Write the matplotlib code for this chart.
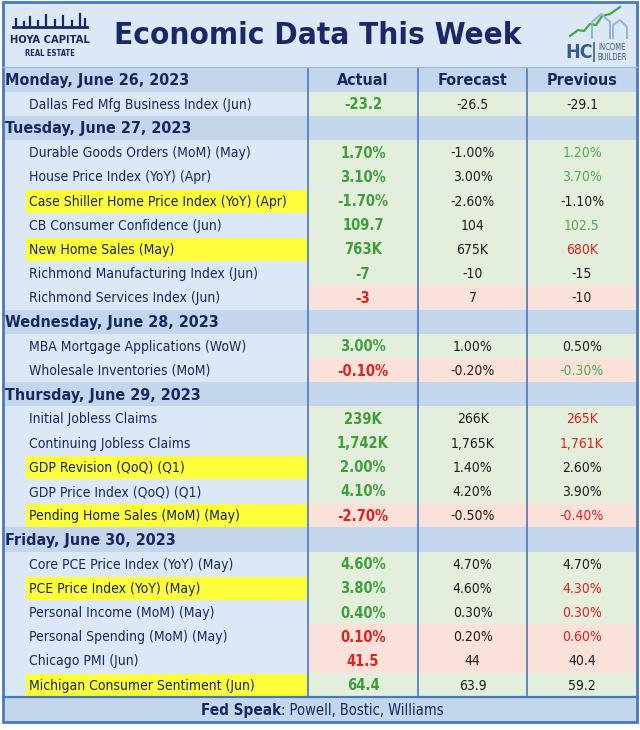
import matplotlib
matplotlib.use('Agg')
import matplotlib.pyplot as plt
from matplotlib.patches import Rectangle

# ---- data ----
days = ['Monday, June 26, 2023', 'Tuesday, June 27, 2023', 'Wednesday, June 28, 2023',
        'Thursday, June 29, 2023', 'Friday, June 30, 2023']
day_of = [0, 1, 1, 1, 1, 1, 1, 1, 2, 2, 3, 3, 3, 3, 3, 4, 4, 4, 4, 4, 4]
events = ['Dallas Fed Mfg Business Index (Jun)',
          'Durable Goods Orders (MoM) (May)', 'House Price Index (YoY) (Apr)',
          'Case Shiller Home Price Index (YoY) (Apr)', 'CB Consumer Confidence (Jun)',
          'New Home Sales (May)', 'Richmond Manufacturing Index (Jun)', 'Richmond Services Index (Jun)',
          'MBA Mortgage Applications (WoW)', 'Wholesale Inventories (MoM)',
          'Initial Jobless Claims', 'Continuing Jobless Claims', 'GDP Revision (QoQ) (Q1)',
          'GDP Price Index (QoQ) (Q1)', 'Pending Home Sales (MoM) (May)',
          'Core PCE Price Index (YoY) (May)', 'PCE Price Index (YoY) (May)',
          'Personal Income (MoM) (May)', 'Personal Spending (MoM) (May)',
          'Chicago PMI (Jun)', 'Michigan Consumer Sentiment (Jun)']
actual = ['-23.2', '1.70%', '3.10%', '-1.70%', '109.7', '763K', '-7', '-3', '3.00%', '-0.10%',
          '239K', '1,742K', '2.00%', '4.10%', '-2.70%', '4.60%', '3.80%', '0.40%', '0.10%',
          '41.5', '64.4']
forecast = ['-26.5', '-1.00%', '3.00%', '-2.60%', '104', '675K', '-10', '7', '1.00%', '-0.20%',
            '266K', '1,765K', '1.40%', '4.20%', '-0.50%', '4.70%', '4.60%', '0.30%', '0.20%',
            '44', '63.9']
previous = ['-29.1', '1.20%', '3.70%', '-1.10%', '102.5', '680K', '-15', '-10', '0.50%', '-0.30%',
            '265K', '1,761K', '2.60%', '3.90%', '-0.40%', '4.70%', '4.30%', '0.30%', '0.60%',
            '40.4', '59.2']
# g = beat (green row / text), r = miss (red), k = neutral
outcome = ['g'] * 7 + ['r', 'g', 'r', 'g', 'g', 'g', 'g', 'r', 'g', 'g', 'g', 'r', 'r', 'g']
prev_col = ['k', 'g', 'g', 'k', 'g', 'r', 'k', 'k', 'k', 'g', 'r', 'r', 'k', 'k', 'r',
            'k', 'r', 'r', 'r', 'k', 'k']
highlight = [3, 5, 12, 14, 16, 20]
columns = ['Actual', 'Forecast', 'Previous']
fed_speak = 'Powell, Bostic, Williams'

# ---- style ----
NAVY = '#18275e'
LINE = '#4a78bd'
BAND = '#c3d6ec'
BG = '#dce8f6'
GREEN_BG = '#e3eedc'
RED_BG = '#fae2da'
YELLOW = '#fdfd3a'
TXT = {'g': '#3e9e3a', 'r': '#e0221e', 'k': '#1e1e1e'}
FONT = dict(family='DejaVu Sans', fontstretch='condensed')

W, H = 640, 730
fig = plt.figure(figsize=(6.4, 7.3), dpi=100)
ax = fig.add_axes([0, 0, 1, 1])
ax.set_xlim(0, W)
ax.set_ylim(H, 0)
ax.axis('off')

x0, x1 = 3, 637
xcols = [308, 418, 527, 637]
xcent = [(xcols[i] + xcols[i + 1]) / 2 for i in range(3)]
top, rh = 67.5, 24.2

# background
ax.add_patch(Rectangle((x0, 2), x1 - x0, 720, fc=BG, ec='none'))

# build row list
rows = []
prev_day = None
for i, d in enumerate(day_of):
    if d != prev_day:
        rows.append(('day', d))
        prev_day = d
    rows.append(('ev', i))

for k, (kind, idx) in enumerate(rows):
    y = top + k * rh
    yc = y + rh / 2
    if kind == 'day':
        ax.add_patch(Rectangle((x0, y), x1 - x0, rh, fc=BAND, ec='none'))
        ax.text(5, yc + 1, days[idx], fontsize=11.5, fontweight='bold', color=NAVY,
                va='center', ha='left', **FONT)
        if idx == 0:
            for c, name in enumerate(columns):
                ax.text(xcent[c], yc + 1, name, fontsize=11.5, fontweight='bold', color=NAVY,
                        va='center', ha='center', **FONT)
    else:
        fc = GREEN_BG if outcome[idx] == 'g' else RED_BG
        ax.add_patch(Rectangle((xcols[0], y), xcols[3] - xcols[0], rh, fc=fc, ec='none'))
        if idx in highlight:
            ax.add_patch(Rectangle((26, y + 1), xcols[0] - 26, rh - 1, fc=YELLOW, ec='none'))
        ax.text(29, yc + 1, events[idx], fontsize=10, color=NAVY,
                va='center', ha='left', **FONT)
        ax.text(xcent[0], yc + 1, actual[idx], fontsize=10.5, fontweight='bold',
                color=TXT[outcome[idx]], va='center', ha='center', **FONT)
        ax.text(xcent[1], yc + 1, forecast[idx], fontsize=10, color=TXT['k'],
                va='center', ha='center', **FONT)
        pc = '#4caf4a' if prev_col[idx] == 'g' else TXT[prev_col[idx]]
        ax.text(xcent[2], yc + 1, previous[idx], fontsize=10, color=pc,
                va='center', ha='center', **FONT)

bottom = top + len(rows) * rh

# grid lines
for xc in xcols[:3]:
    ax.plot([xc, xc], [top, bottom], color=LINE, lw=1.2)
ax.plot([x0, x1], [top - 1, top - 1], color='#9fbde0', lw=1.0)

# footer
ax.add_patch(Rectangle((x0, bottom), x1 - x0, 722 - bottom, fc=BAND, ec='none'))
ax.plot([x0, x1], [bottom, bottom], color=LINE, lw=1.6)
fy = (bottom + 722) / 2 + 1
ax.text(281, fy, 'Fed Speak', fontsize=11, fontweight='bold', color=NAVY,
        va='center', ha='right', **FONT)
ax.text(281, fy, ': ' + fed_speak, fontsize=10.5, color=NAVY,
        va='center', ha='left', **FONT)

# outer border
ax.add_patch(Rectangle((x0, 2), x1 - x0, 720, fc='none', ec=LINE, lw=2))

# title
ax.text(318, 35, 'Economic Data This Week', fontsize=22.5, fontweight='bold', color='#1b2868',
        va='center', ha='center', **FONT)

# Hoya Capital logo (approximation)
ax.plot([13, 87], [27, 27], color=NAVY, lw=2)
for sx, sh in [(16, 8), (24, 5), (30, 10), (38, 6), (46, 12), (55, 7), (63, 11), (72, 6), (80, 13), (85, 8)]:
    ax.plot([sx, sx], [27, 27 - sh], color=NAVY, lw=1.6)
ax.text(50, 40, 'HOYA CAPITAL', fontsize=8, fontweight='bold', color=NAVY,
        va='center', ha='center', **FONT)
ax.text(50, 54, 'REAL ESTATE', fontsize=5.5, fontweight='bold', color=NAVY,
        va='center', ha='center', **FONT)

# HC Income Builder logo (approximation)
ax.plot([570, 578, 584, 590, 596, 602, 610, 620], [36, 30, 31, 24, 25, 16, 14, 7],
        color='#4aa83a', lw=1.6)
ax.plot([592, 592, 601, 610, 610], [38, 22, 14, 22, 38], color='#8fb6dc', lw=1.4)
ax.plot([613, 613, 620, 627, 627], [38, 25, 20, 27, 38], color='#8fb6dc', lw=1.4)
ax.text(579, 52, 'HC', fontsize=14, fontweight='bold', color='#3b5b86',
        va='center', ha='center', **FONT)
ax.plot([594, 594], [43, 61], color='#3b5b86', lw=1.2)
ax.text(612, 47, 'INCOME', fontsize=5.5, color='#3b5b86', va='center', ha='center', **FONT)
ax.text(612, 57, 'BUILDER', fontsize=5.5, color='#3b5b86', va='center', ha='center', **FONT)

fig.savefig('out.png', dpi=100, facecolor='white')
